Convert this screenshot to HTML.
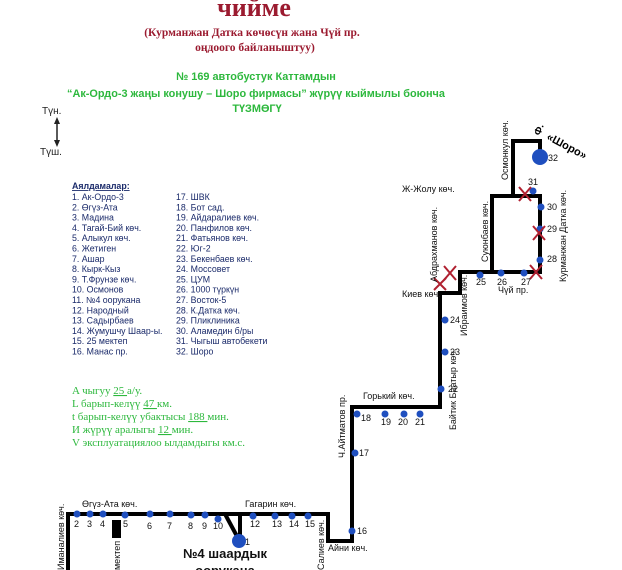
<!DOCTYPE html>
<html><head><meta charset="utf-8"><style>
html,body{margin:0;padding:0;background:#fff;}
svg{display:block;}
.s{font-family:"Liberation Sans",sans-serif;}
.r{font-family:"Liberation Serif",serif;}
</style></head><body>
<svg width="622" height="570" viewBox="0 0 622 570" xmlns="http://www.w3.org/2000/svg">
<g class="r" fill="#9b1b30" font-weight="bold" text-anchor="middle">
<text x="254" y="16" font-size="26">чийме</text>
<text x="252" y="36" font-size="11.5">(Курманжан Датка көчөсүн жана Чүй пр.</text>
<text x="255" y="51" font-size="11.5">оңдоого байланыштуу)</text>
</g>
<g class="s" fill="#2db83d" font-weight="bold" text-anchor="middle" font-size="10.9">
<text x="256" y="80">№ 169  автобустук Каттамдын</text>
<text x="256" y="97">“Ак-Ордо-3 жаңы конушу  – Шоро фирмасы” жүрүү кыймылы боюнча</text>
<text x="257" y="112">ТҮЗМӨГҮ</text>
</g>
<g class="s" font-size="10" fill="#222">
<text x="42" y="114">Түн.</text>
<text x="40" y="155">Түш.</text>
</g>
<line x1="57" y1="121" x2="57" y2="143" stroke="#222" stroke-width="1.5"/>
<polygon points="54,124 57,117 60,124" fill="#222"/>
<polygon points="54,140 57,147 60,140" fill="#222"/>
<g class="s" font-size="8.8" fill="#1a2a6a">
<text x="72" y="189" font-weight="bold" text-decoration="underline">Аялдамалар:</text>
<text x="72" y="200">1. Ак-Ордо-3</text><text x="72" y="210.3">2. Өгүз-Ата</text><text x="72" y="220.6">3. Мадина</text><text x="72" y="230.9">4. Тагай-Бий көч.</text><text x="72" y="241.2">5. Алыкул көч.</text><text x="72" y="251.5">6. Жетиген</text><text x="72" y="261.8">7. Ашар</text><text x="72" y="272.1">8. Кырк-Кыз</text><text x="72" y="282.4">9. Т.Фрунзе көч.</text><text x="72" y="292.7">10. Осмонов</text><text x="72" y="303">11. №4 оорукана</text><text x="72" y="313.3">12. Народный</text><text x="72" y="323.6">13. Садырбаев</text><text x="72" y="333.9">14. Жумушчу Шаар-ы.</text><text x="72" y="344.2">15. 25 мектеп</text><text x="72" y="354.5">16. Манас пр.</text>
<text x="176" y="200">17. ШВК</text><text x="176" y="210.3">18. Бот сад.</text><text x="176" y="220.6">19. Айдаралиев көч.</text><text x="176" y="230.9">20. Панфилов көч.</text><text x="176" y="241.2">21. Фатьянов көч.</text><text x="176" y="251.5">22. Юг-2</text><text x="176" y="261.8">23. Бекенбаев көч.</text><text x="176" y="272.1">24. Моссовет</text><text x="176" y="282.4">25. ЦУМ</text><text x="176" y="292.7">26. 1000 түркүн</text><text x="176" y="303">27. Восток-5</text><text x="176" y="313.3">28. К.Датка көч.</text><text x="176" y="323.6">29. Пликлиника</text><text x="176" y="333.9">30. Аламедин б/ры</text><text x="176" y="344.2">31. Чыгыш автобекети</text><text x="176" y="354.5">32. Шоро</text>
</g>
<g class="r" font-size="11" fill="#2db83d">
<text x="72" y="394">A чыгуу  <tspan text-decoration="underline">   25   </tspan>а/у.</text>
<text x="72" y="407">L барып-келүү <tspan text-decoration="underline">  47  </tspan>км.</text>
<text x="72" y="420">t барып-келүү убактысы <tspan text-decoration="underline">  188  </tspan> мин.</text>
<text x="72" y="433">И жүрүү аралыгы   <tspan text-decoration="underline">  12  </tspan> мин.</text>
<text x="72" y="446">V эксплуатациялоо ылдамдыгы <tspan text-decoration="underline">       </tspan> км.с.</text>
</g>
<g fill="none" stroke="#000" stroke-width="4" stroke-linejoin="miter">
<polyline points="68,570 68,514 328,514 328,541 352,541 352,407 440,407 440,293 460,293 460,272 540,272 540,196 492,196 492,272"/>
<polyline points="513,196 513,141 540,141 540,150"/>
<polyline points="225,514 239,540" />
<line x1="240" y1="514" x2="240" y2="540"/>
</g>
<rect x="112" y="520" width="9" height="18" fill="#000"/>
<g fill="#1f4fbf">
<circle cx="540" cy="157" r="8"/>
<circle cx="239" cy="541" r="7"/>
<circle cx="533" cy="191" r="3.5"/><circle cx="541" cy="207" r="3.5"/><circle cx="540" cy="229" r="3.5"/><circle cx="540" cy="260" r="3.5"/>
<circle cx="524" cy="273" r="3.5"/><circle cx="501" cy="273" r="3.5"/><circle cx="480" cy="275" r="3.5"/>
<circle cx="445" cy="320" r="3.5"/><circle cx="445" cy="352" r="3.5"/><circle cx="441" cy="389" r="3.5"/>
<circle cx="420" cy="414" r="3.5"/><circle cx="404" cy="414" r="3.5"/><circle cx="385" cy="414" r="3.5"/><circle cx="357" cy="414" r="3.5"/>
<circle cx="355" cy="453" r="3.5"/><circle cx="352" cy="531" r="3.5"/>
<circle cx="77" cy="514" r="3.5"/><circle cx="90" cy="514" r="3.5"/><circle cx="103" cy="514" r="3.5"/><circle cx="125" cy="515" r="3.5"/><circle cx="150" cy="514" r="3.5"/><circle cx="170" cy="514" r="3.5"/><circle cx="191" cy="515" r="3.5"/><circle cx="205" cy="515" r="3.5"/><circle cx="218" cy="519" r="3.5"/>
<circle cx="253" cy="516" r="3.5"/><circle cx="275" cy="516" r="3.5"/><circle cx="292" cy="516" r="3.5"/><circle cx="308" cy="516" r="3.5"/>
</g>
<g stroke="#b02030" stroke-width="2">
<path d="M519,187 L531,201 M531,187 L519,201"/>
<path d="M533,226 L545,240 M545,226 L533,240"/>
<path d="M530,265 L542,279 M542,265 L530,279"/>
<path d="M444,266 L456,280 M456,266 L444,280"/>
<path d="M434,278 L446,290 M446,278 L434,290"/>
</g>
<g class="s" font-size="9" fill="#111">
<text x="548" y="161">32</text><text x="528" y="185">31</text><text x="547" y="210">30</text><text x="547" y="232">29</text><text x="547" y="262">28</text>
<text x="521" y="285">27</text><text x="497" y="285">26</text><text x="476" y="285">25</text>
<text x="450" y="323">24</text><text x="450" y="355">23</text><text x="448" y="392">22</text>
<text x="415" y="425">21</text><text x="398" y="425">20</text><text x="381" y="425">19</text><text x="361" y="421">18</text><text x="359" y="456">17</text><text x="357" y="534">16</text>
<text x="74" y="527">2</text><text x="87" y="527">3</text><text x="100" y="527">4</text><text x="123" y="527">5</text><text x="147" y="529">6</text><text x="167" y="529">7</text><text x="188" y="529">8</text><text x="202" y="529">9</text><text x="213" y="529">10</text><text x="245" y="545">1</text>
<text x="250" y="527">12</text><text x="272" y="527">13</text><text x="289" y="527">14</text><text x="305" y="527">15</text>
<text x="402" y="192">Ж-Жолу көч.</text><text x="498" y="293">Чүй пр.</text><text x="402" y="297">Киев көч.</text><text x="363" y="399">Горький көч.</text>
<text x="82" y="507">Өгүз-Ата көч.</text><text x="245" y="507">Гагарин көч.</text><text x="328" y="551">Айни көч.</text>
<text transform="translate(508,180) rotate(-90)">Осмонкул көч.</text>
<text transform="translate(488,262) rotate(-90)">Суюнбаев көч.</text>
<text transform="translate(437,282) rotate(-90)">Абдрахманов көч.</text>
<text transform="translate(467,336) rotate(-90)">Ибраимов көч.</text>
<text transform="translate(566,282) rotate(-90)">Курманжан Датка көч.</text>
<text transform="translate(456,430) rotate(-90)">Байтик Баатыр көч.</text>
<text transform="translate(345,458) rotate(-90)">Ч.Айтматов пр.</text>
<text transform="translate(324,570) rotate(-90)">Салиев көч.</text>
<text transform="translate(64,570) rotate(-90)">Иманалиев көч.</text>
<text transform="translate(120,570) rotate(-90)">мектеп</text>
</g>
<text class="s" transform="translate(546,139) rotate(28)" font-size="11" font-weight="bold">«Шоро»</text>
<text class="s" transform="translate(540,136) rotate(-70)" font-size="10" font-weight="bold">Ф.</text>
<g class="s" font-size="13" font-weight="bold" text-anchor="middle" fill="#111">
<text x="225" y="558">№4 шаардык</text>
<text x="225" y="575">оорукана</text>
</g>
</svg>
</body></html>
